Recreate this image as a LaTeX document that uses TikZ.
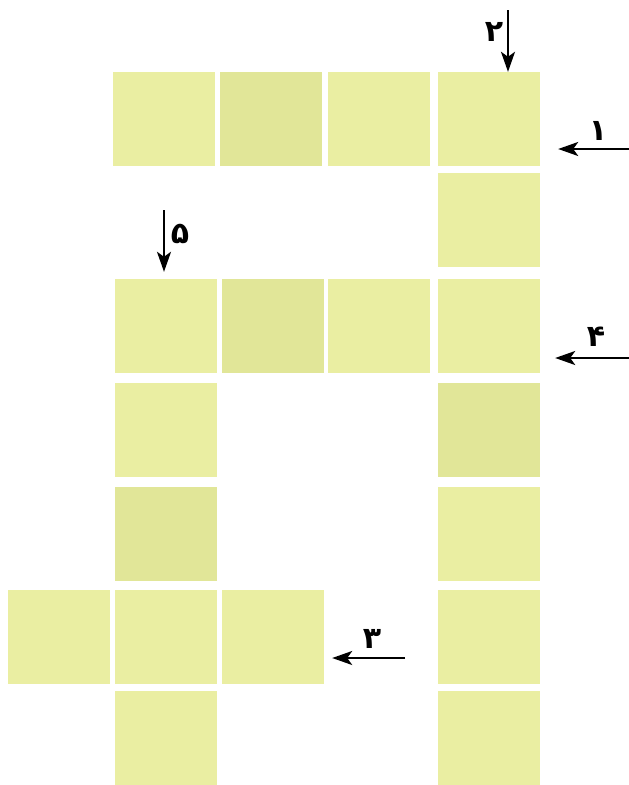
\documentclass[tikz,border=0pt]{standalone}
\usepackage{fontspec}
\usepackage{tikz}
\usetikzlibrary{arrows.meta}
\TeXXeTstate=1
\newfontfamily\arabicfont[Script=Arabic]{DejaVu Sans}
\definecolor{cellyellow}{HTML}{EAEEA2}
\definecolor{celldark}{HTML}{E1E698}

\begin{document}
\begin{tikzpicture}[
        x=1pt, y=-1pt,
        cell/.style={
            fill=cellyellow,
            draw=none,
            minimum width=102pt,
            minimum height=94pt,
            inner sep=0pt
        },
        darkcell/.style={cell, fill=celldark},
        line/.style={-{Stealth[length=20pt,width=14pt,inset=5pt]}, line width=2.2pt, black},
        num/.style={font=\arabicfont\bfseries\fontsize{30}{34}\selectfont, inner sep=0pt}
    ]
        \useasboundingbox (0,0) rectangle (629,785);

        % top row
        \node[cell] (a1) at (164,119) {};
        \node[darkcell] (a2) at (271,119) {};
        \node[cell] (a3) at (379,119) {};
        \node[cell] (a4) at (489,119) {};

        % right column
        \node[cell] (b4) at (489,220) {};
        \node[cell] (c4) at (489,326) {};
        \node[darkcell] (d4) at (489,430) {};
        \node[cell] (e4) at (489,534) {};
        \node[cell] (f4) at (489,637) {};
        \node[cell] (g4) at (489,738) {};

        % middle row
        \node[cell] (c1) at (166,326) {};
        \node[darkcell] (c2) at (273,326) {};
        \node[cell] (c3) at (379,326) {};

        % left column
        \node[cell] (d1) at (166,430) {};
        \node[darkcell] (e1) at (166,534) {};
        \node[cell] (f1) at (166,637) {};
        \node[cell] (g1) at (166,738) {};

        % bottom cross
        \node[cell] (f0) at (59,637) {};
        \node[cell] (f2) at (273,637) {};

        % clue arrows
        \coordinate (in1) at (629,149);
        \coordinate (in2) at (508,10);
        \coordinate (in3) at (405,658);
        \coordinate (in4) at (629,358);
        \coordinate (in5) at (164,210);

        \draw[line] (in1) -- ([xshift=18pt]a4.east |- in1);
        \draw[line] (in2) -- (a4.north -| in2);
        \draw[line] (in3) -- ([xshift=8pt]f2.east |- in3);
        \draw[line] (in4) -- ([xshift=15pt]c4.east |- in4);
        \draw[line] (in5) -- ([yshift=7pt]c1.north -| in5);

        \node[num] (n1) at (598,131) {\beginR ۱\endR};
        \node[num] (n2) at (494,32) {\beginR ۲\endR};
        \node[num] (n3) at (372,639) {\beginR ۳\endR};
        \node[num] (n4) at (596,337) {\beginR ۴\endR};
        \node[num] (n5) at (180,234) {\beginR ۵\endR};
    \end{tikzpicture}
\end{document}
